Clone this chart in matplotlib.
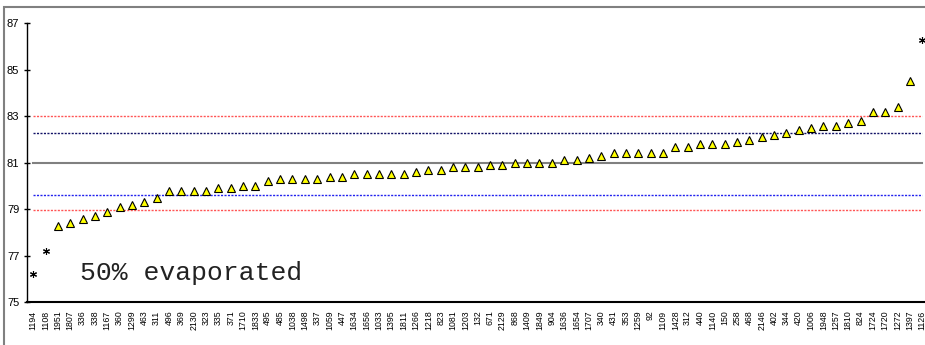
import matplotlib
matplotlib.use('Agg')
import matplotlib.pyplot as plt
from matplotlib.patches import Rectangle

# samples, sorted by value
labels = ['1194', '1108', '1951', '1807', '336', '338', '1167', '360', '1299', '463',
          '311', '496', '369', '2130', '323', '335', '371', '1710', '1833', '495',
          '485', '1038', '1498', '337', '1059', '447', '1634', '1656', '1033', '1395',
          '1811', '1266', '1218', '823', '1081', '1203', '132', '671', '2129', '868',
          '1409', '1849', '904', '1636', '1654', '1707', '340', '431', '353', '1259',
          '92', '1109', '1428', '312', '440', '1140', '150', '258', '468', '2146',
          '402', '344', '420', '1006', '1948', '1257', '1810', '824', '1724', '1720',
          '1272', '1397', '1126']
values = [76.2, 77.2, 78.3, 78.4, 78.6, 78.7, 78.9, 79.1, 79.2, 79.3,
          79.5, 79.8, 79.8, 79.8, 79.8, 79.9, 79.9, 80.0, 80.0, 80.2,
          80.3, 80.3, 80.3, 80.3, 80.4, 80.4, 80.5, 80.5, 80.5, 80.5,
          80.5, 80.6, 80.7, 80.7, 80.8, 80.8, 80.8, 80.9, 80.9, 81.0,
          81.0, 81.0, 81.0, 81.1, 81.1, 81.2, 81.3, 81.4, 81.4, 81.4,
          81.4, 81.4, 81.7, 81.7, 81.8, 81.8, 81.8, 81.9, 82.0, 82.1,
          82.2, 82.3, 82.4, 82.5, 82.6, 82.6, 82.7, 82.8, 83.2, 83.2,
          83.4, 84.5, 86.3]
outliers = ['1194', '1108', '1126']

mean_line = 81.0
inner_lines = [79.6, 82.3]
outer_lines = [78.95, 83.0]

fig = plt.figure(figsize=(9.25, 3.45), dpi=100)
ax = fig.add_axes([0.0292, 0.1238, 0.9745, 0.8087])

x = list(range(len(labels)))
xo = [i for i, l in enumerate(labels) if l in outliers]
xt = [i for i, l in enumerate(labels) if l not in outliers]

# reference lines
ax.plot([x[0], x[-1]], [mean_line, mean_line], color='#808080', lw=1.5, zorder=1)
ax.plot([x[0], x[-1]], [inner_lines[0]] * 2, color='#2222ee', lw=1, ls=(0, (1.5, 1)), zorder=1)
ax.plot([x[0], x[-1]], [inner_lines[1]] * 2, color='#111166', lw=1, ls=(0, (1.5, 1)), zorder=1)
for v in outer_lines:
    ax.plot([x[0], x[-1]], [v, v], color='#ff5555', lw=1, ls=(0, (1.5, 1)), zorder=1)

ax.plot(xt, [values[i] for i in xt], ls='none', marker='^', ms=6,
        mfc='#ffff00', mec='black', mew=0.8, zorder=3)
ax.plot(xo, [values[i] for i in xo], ls='none', marker=(6, 2, 0), ms=5,
        color='black', mew=0.8, zorder=3)

ax.set_xlim(-0.5, len(labels) - 0.5)
ax.set_ylim(75, 87)
ax.set_yticks([75, 77, 79, 81, 83, 85, 87])
ax.set_xticks(x)
ax.set_xticklabels(labels, rotation=90, fontsize=6.3, family='Liberation Sans')
ax.tick_params(axis='x', length=0, pad=6)
ax.tick_params(axis='y', direction='inout', length=5, width=1, labelsize=8, pad=3)
for t in ax.get_yticklabels():
    t.set_family('Liberation Sans')
ax.spines['top'].set_visible(False)
ax.spines['right'].set_visible(False)
ax.spines['left'].set_linewidth(1)
ax.spines['bottom'].set_linewidth(1.5)

fig.text(80 / 925, 1 - 273 / 345, '50% evaporated', family='Liberation Mono',
         fontsize=19, va='center', ha='left', color='#222222')

# chart frame
fig.patches.append(Rectangle((4 / 925, -0.05), 1.1, 1 - 6.7 / 345 + 0.05,
                             transform=fig.transFigure, fill=False,
                             ec='#808080', lw=1.5))

fig.savefig('out.png', dpi=100)
